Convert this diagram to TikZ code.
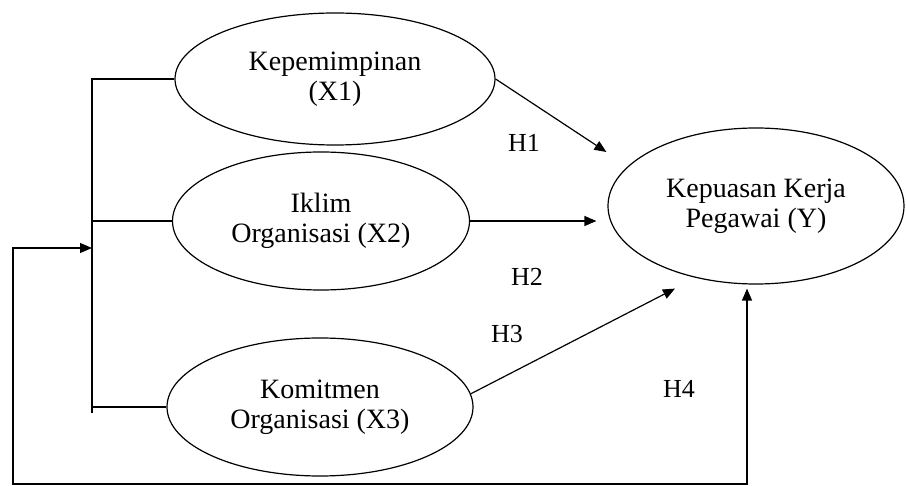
\documentclass[tikz,border=0pt]{standalone}
\usepackage{fontspec}
\setmainfont{Liberation Serif}
\usetikzlibrary{shapes.geometric,arrows.meta}

\begin{document}
\begin{tikzpicture}[x=1pt, y=-1pt, line width=1.2pt,
  >={Triangle[length=12pt,width=10pt]},
  var/.style={draw, ellipse, inner sep=0pt, align=center, font=\fontsize{28}{30}\selectfont},
  hyp/.style={font=\fontsize{26}{28}\selectfont}]
\useasboundingbox (0,0) rectangle (906,486);

\node[var, minimum width=320pt, minimum height=132pt] (X1) at (335,79) {Kepemimpinan\\(X1)};
\node[var, minimum width=297pt, minimum height=138pt] (X2) at (321,221) {Iklim\\Organisasi (X2)};
\node[var, minimum width=306pt, minimum height=138pt] (X3) at (320,407) {Komitmen\\Organisasi (X3)};
\node[var, minimum width=296pt, minimum height=156pt] (Y) at (756,206) {Kepuasan Kerja\\Pegawai (Y)};

% bracket joining the three variables
\coordinate (bartop) at (92,80);
\coordinate (barbot) at (92,413);
\draw (X1.west) -- (X1.west -| bartop) -- (barbot);
\draw (X2.west) -- (X2.west -| bartop);
\draw (X3.west) -- (X3.west -| bartop);

% hypotheses
\draw[->] (X1.east) -- ([shift={(-1,-54)}]Y.west);
\draw[->] (X2.east) -- ([shift={(-11,15)}]Y.west);
\draw[->] (X3.5) -- ([shift={(-81,4)}]Y.south);
\node[hyp] (h1) at (524,143) {H1};
\node[hyp] (h2) at (527,277) {H2};
\node[hyp] (h3) at (507,334) {H3};
\node[hyp] (h4) at (679,389) {H4};

% simultaneous effect
\coordinate (fbin) at (92,248);
\coordinate (fbcorner) at (13,484);
\draw[<->] (fbin) -| (fbcorner) -| ([shift={(-9,4)}]Y.south);
\end{tikzpicture}
\end{document}
